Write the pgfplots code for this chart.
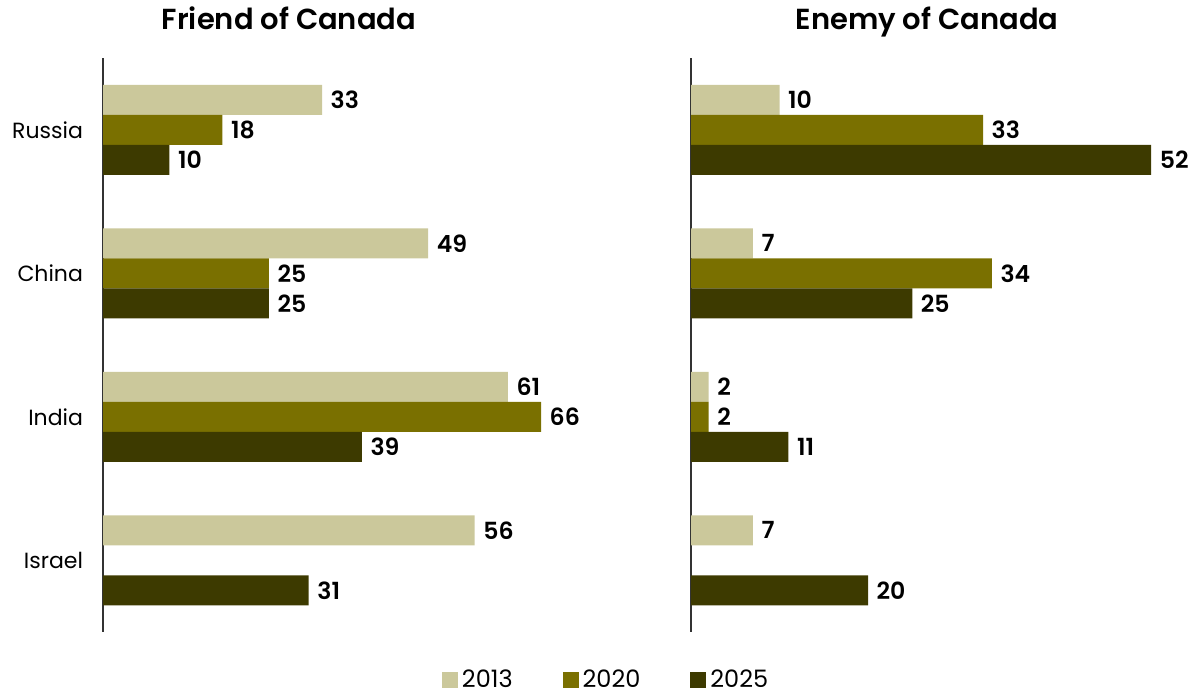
\documentclass[border=0pt]{standalone}
\usepackage{fontspec}
\setmainfont{Poppins}[BoldFont={Poppins SemiBold}]
\usepackage{pgfplots}
\pgfplotsset{compat=1.18}
\definecolor{cA}{HTML}{CBC89B}
\definecolor{cB}{HTML}{7A7000}
\definecolor{cC}{HTML}{3D3A00}
\begin{document}
\begin{tikzpicture}
\useasboundingbox (0,0) rectangle (600pt,-347.5pt);
\pgfplotsset{
  mybars/.style={
    scale only axis,
    xbar, bar width=15pt,
    height=287pt,
    ymin=-0.5, ymax=3.5, y dir=reverse,
    axis x line=none,
    axis y line*=left,
    y axis line style={draw=black!80, line width=0.6pt, -},
    major tick length=0pt,
    ytick={0,1,2,3},
    xmin=0,
    /pgf/number format/assume math mode=true,
    nodes near coords,
    nodes near coords style={font=\bfseries\fontsize{11.8}{12}\selectfont, anchor=west, xshift=0.8pt, text=black},
    every axis plot/.append style={draw=none},
    clip=false,
  }
}
\begin{axis}[mybars,
  at={(51.5pt,-29pt)}, anchor=north west,
  width=232.3pt, xmax=70,
  yticklabels={Russia,China,India,Israel},
  yticklabel style={font=\fontsize{11}{12}\selectfont, xshift=-6.5pt},
  legend style={at={(1.085,-0.0835)}, anchor=center, draw=none, legend columns=3,
    font=\fontsize{12}{14}\selectfont, inner sep=0.5pt,
    /tikz/every even column/.append style={column sep=23pt}},
  legend image code/.code={\fill[#1] (0pt,-4.1pt) rectangle (8pt,4.1pt);},
]
\addplot[fill=cA, bar shift=15pt] coordinates {(33,0) (49,1) (61,2) (56,3)};
\addplot[fill=cB, bar shift=0pt] coordinates {(18,0) (25,1) (66,2)};
\addplot[fill=cC, bar shift=-15pt] coordinates {(10,0) (25,1) (39,2) (31,3)};
\legend{2013,2020,2025}
\end{axis}
\begin{axis}[mybars,
  at={(345.5pt,-29pt)}, anchor=north west,
  width=243.4pt, xmax=55,
  yticklabels={},
]
\addplot[fill=cA, bar shift=15pt] coordinates {(10,0) (7,1) (2,2) (7,3)};
\addplot[fill=cB, bar shift=0pt] coordinates {(33,0) (34,1) (2,2)};
\addplot[fill=cC, bar shift=-15pt] coordinates {(52,0) (25,1) (11,2) (20,3)};
\end{axis}
\node[font=\bfseries\fontsize{14.5}{16}\selectfont, anchor=base] at (144.5pt,-15pt) {Friend of Canada};
\node[font=\bfseries\fontsize{14.5}{16}\selectfont, anchor=base] at (463.5pt,-15pt) {Enemy of Canada};
\end{tikzpicture}
\end{document}
